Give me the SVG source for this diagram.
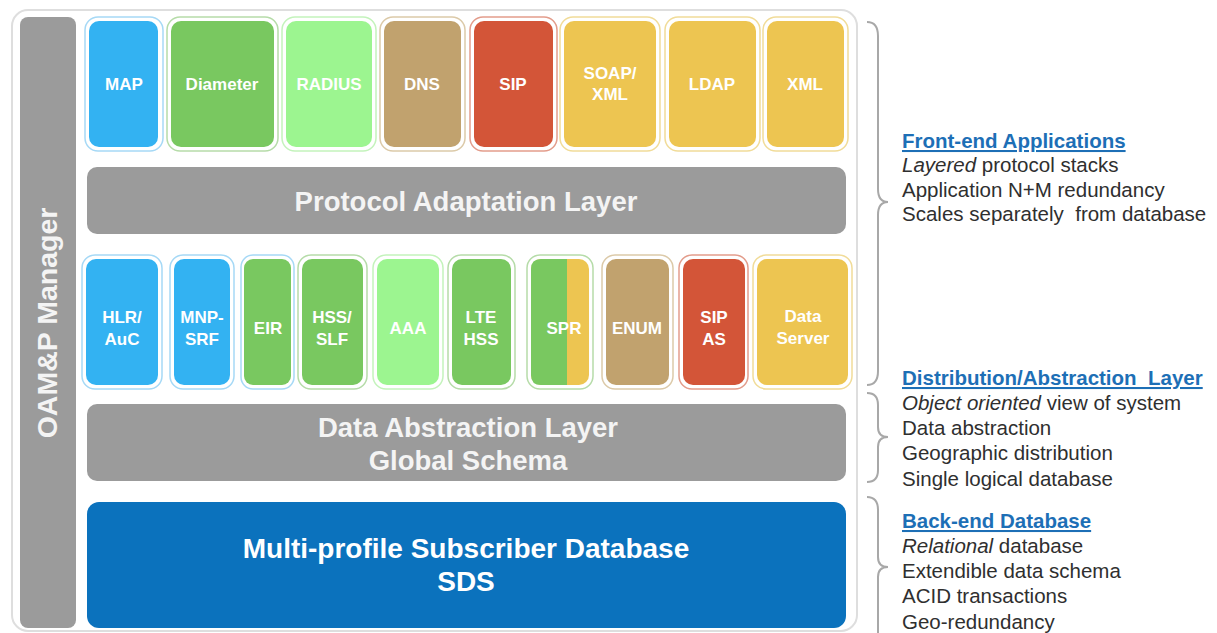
<svg xmlns="http://www.w3.org/2000/svg" width="1217" height="633" viewBox="0 0 1217 633">
<style>
text{font-family:"Liberation Sans",Arial,sans-serif}
.lbl{fill:#ffffff;font-weight:bold;font-size:17px;text-anchor:middle}
.big{fill:#f4f4f4;font-weight:bold;font-size:27.5px;text-anchor:middle}
.o{fill:#ffffff;stroke-width:1.5}
.ob{stroke:#a6d9f6}.og{stroke:#b6dca9}.olg{stroke:#c4f3bc}.ot{stroke:#dccaa9}.or{stroke:#e39d8c}.oy{stroke:#f1dc99}
.b{fill:#33b2f2}.g{fill:#79c860}.lg{fill:#9cf590}.t{fill:#c1a26e}.r{fill:#d35538}.y{fill:#edc551}
.gray{fill:#9b9b9b}
.brace{fill:none;stroke:#a8a8a8;stroke-width:2}
.hd{fill:#1d6fb6;font-weight:bold;font-size:20.5px;text-decoration:underline}
.tx{fill:#2f2f2f;font-size:20.5px}
</style>
<rect x="12" y="10" width="845" height="621" rx="16" fill="#ffffff" stroke="#dedede" stroke-width="2"/>
<g id="oamp">
<rect x="20" y="17" width="56" height="611" rx="8" class="gray"/>
<text transform="translate(57,323) rotate(-90)" text-anchor="middle" fill="#f4f4f4" font-weight="bold" font-size="28.5">OAM&amp;P Manager</text>
</g>
<g id="map"><rect x="85" y="17" width="78" height="134" rx="13" class="o ob"/><rect x="89" y="21" width="69" height="126" rx="10" class="b"/><text x="124" y="90" class="lbl">MAP</text></g>
<g id="diameter"><rect x="167" y="17" width="111" height="134" rx="13" class="o og"/><rect x="171" y="21" width="103" height="126" rx="10" class="g"/><text x="222" y="90" class="lbl">Diameter</text></g>
<g id="radius"><rect x="282" y="17" width="94" height="134" rx="13" class="o olg"/><rect x="286" y="21" width="86" height="126" rx="10" class="lg"/><text x="329" y="90" class="lbl">RADIUS</text></g>
<g id="dns"><rect x="380" y="17" width="85" height="134" rx="13" class="o ot"/><rect x="384" y="21" width="77" height="126" rx="10" class="t"/><text x="422" y="90" class="lbl">DNS</text></g>
<g id="sip"><rect x="470" y="17" width="87" height="134" rx="13" class="o or"/><rect x="474" y="21" width="79" height="126" rx="10" class="r"/><text x="513" y="90" class="lbl">SIP</text></g>
<g id="soap"><rect x="560" y="17" width="100" height="134" rx="13" class="o oy"/><rect x="564" y="21" width="92" height="126" rx="10" class="y"/><text x="610" y="79" class="lbl">SOAP/</text><text x="610" y="100" class="lbl">XML</text></g>
<g id="ldap"><rect x="665" y="17" width="95" height="134" rx="13" class="o oy"/><rect x="669" y="21" width="87" height="126" rx="10" class="y"/><text x="712" y="90" class="lbl">LDAP</text></g>
<g id="xml"><rect x="763" y="17" width="85" height="134" rx="13" class="o oy"/><rect x="767" y="21" width="77" height="126" rx="10" class="y"/><text x="805" y="90" class="lbl">XML</text></g>
<g id="pal"><rect x="87" y="167" width="759" height="67" rx="10" class="gray"/><text x="466" y="211" class="big">Protocol Adaptation Layer</text></g>
<g id="hlr"><rect x="82" y="255" width="80" height="134" rx="13" class="o ob"/><rect x="86" y="259" width="72" height="126" rx="10" class="b"/><text x="122" y="323" class="lbl">HLR/</text><text x="122" y="345" class="lbl">AuC</text></g>
<g id="mnp"><rect x="170" y="255" width="64" height="134" rx="13" class="o ob"/><rect x="174" y="259" width="56" height="126" rx="10" class="b"/><text x="202" y="323" class="lbl">MNP-</text><text x="202" y="345" class="lbl">SRF</text></g>
<g id="eir"><rect x="241" y="255" width="53" height="134" rx="12" class="o ob"/><rect x="244" y="259" width="47" height="126" rx="9" class="g"/><text x="268" y="334" class="lbl">EIR</text></g>
<g id="hss"><rect x="298" y="255" width="69" height="134" rx="13" class="o og"/><rect x="302" y="259" width="61" height="126" rx="10" class="g"/><text x="332" y="323" class="lbl">HSS/</text><text x="332" y="345" class="lbl">SLF</text></g>
<g id="aaa"><rect x="373" y="255" width="70" height="134" rx="13" class="o olg"/><rect x="377" y="259" width="62" height="126" rx="10" class="lg"/><text x="408" y="334" class="lbl">AAA</text></g>
<g id="ltehss"><rect x="448" y="255" width="67" height="134" rx="13" class="o og"/><rect x="452" y="259" width="59" height="126" rx="10" class="g"/><text x="481" y="323" class="lbl">LTE</text><text x="481" y="345" class="lbl">HSS</text></g>
<g id="spr"><rect x="527" y="255" width="66" height="134" rx="13" class="o og"/><rect x="531" y="259" width="58" height="126" rx="10" class="y"/><path d="M567,259 H541 Q531,259 531,269 V375 Q531,385 541,385 H567 Z" class="g"/><text x="564" y="334" class="lbl">SPR</text></g>
<g id="enum"><rect x="602" y="255" width="71" height="134" rx="13" class="o ot"/><rect x="606" y="259" width="63" height="126" rx="10" class="t"/><text x="637" y="334" class="lbl">ENUM</text></g>
<g id="sipas"><rect x="679" y="255" width="69" height="134" rx="13" class="o or"/><rect x="683" y="259" width="62" height="126" rx="10" class="r"/><text x="714" y="323" class="lbl">SIP</text><text x="714" y="345" class="lbl">AS</text></g>
<g id="dataserver"><rect x="753" y="255" width="99" height="134" rx="13" class="o oy"/><rect x="757" y="259" width="91" height="126" rx="10" class="y"/><text x="803" y="322" class="lbl">Data</text><text x="803" y="344" class="lbl">Server</text></g>
<g id="dal"><rect x="87" y="404" width="759" height="77" rx="10" class="gray"/><text x="468" y="437" class="big">Data Abstraction Layer</text><text x="468" y="470" class="big">Global Schema</text></g>
<g id="sds"><rect x="87" y="502" width="759" height="126" rx="12" fill="#0b72bd"/><text x="466" y="558" class="big" style="fill:#ffffff;font-size:28px">Multi-profile Subscriber Database</text><text x="466" y="591" class="big" style="fill:#ffffff;font-size:28px">SDS</text></g>
<g id="connectors">
<path class="brace" d="M867,22 Q878,22 878,36 L878,189 Q878,202 888,202 Q878,202 878,215 L878,371 Q878,385 867,385"/>
<path class="brace" d="M867,393 Q878,393 878,405 L878,427 Q878,437 888,437 Q878,437 878,447 L878,470 Q878,482 867,482"/>
<path class="brace" d="M867,497 Q878,497 878,510 L878,557 Q878,567 888,567 Q878,567 878,577 L878,640"/>
</g>
<g id="notes">
<text x="902" y="148" class="hd">Front-end Applications</text>
<text x="902" y="172" class="tx"><tspan font-style="italic">Layered</tspan> protocol stacks</text>
<text x="902" y="197" class="tx">Application N+M redundancy</text>
<text x="902" y="221" class="tx">Scales separately&#160; from database</text>
<text x="902" y="385" class="hd">Distribution/Abstraction&#160; Layer</text>
<text x="902" y="410" class="tx"><tspan font-style="italic">Object oriented</tspan> view of system</text>
<text x="902" y="435" class="tx">Data abstraction</text>
<text x="902" y="460" class="tx">Geographic distribution</text>
<text x="902" y="486" class="tx">Single logical database</text>
<text x="902" y="528" class="hd">Back-end Database</text>
<text x="902" y="553" class="tx"><tspan font-style="italic">Relational</tspan> database</text>
<text x="902" y="578" class="tx">Extendible data schema</text>
<text x="902" y="603" class="tx">ACID transactions</text>
<text x="902" y="629" class="tx">Geo-redundancy</text>
</g>
</svg>
